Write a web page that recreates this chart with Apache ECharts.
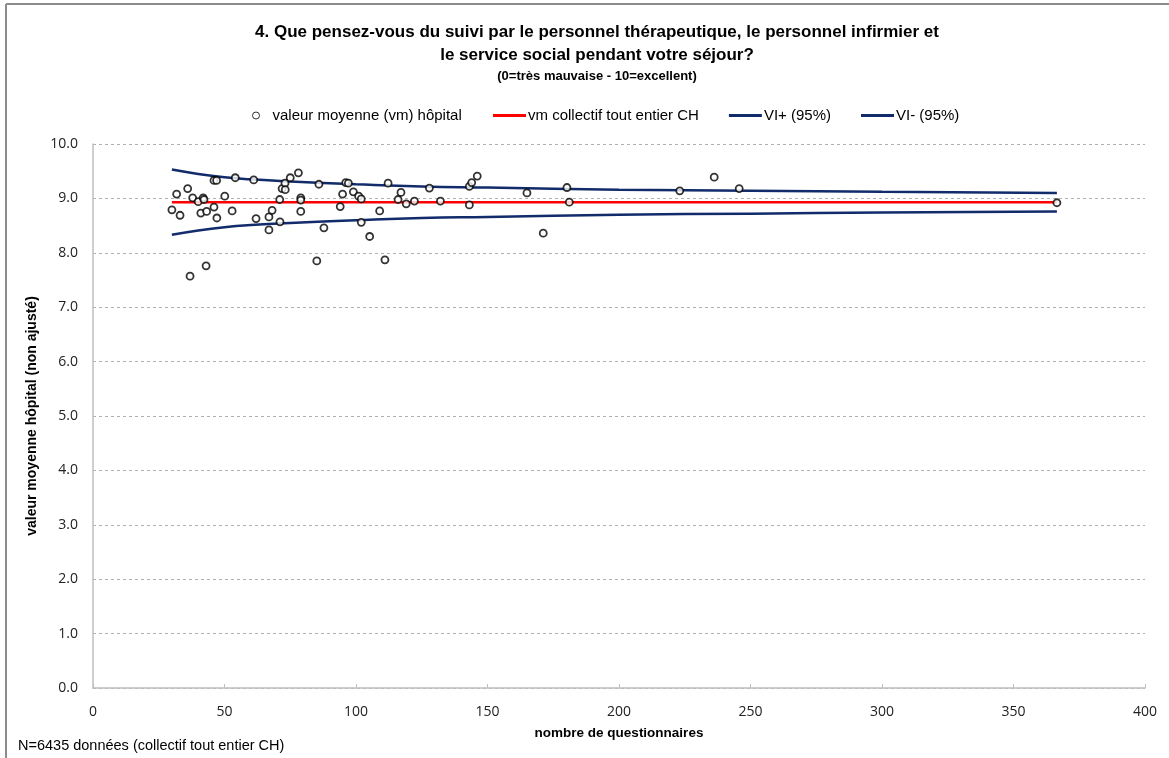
<!DOCTYPE html>
<html>
<head>
<meta charset="utf-8">
<script src="https://cdn.jsdelivr.net/npm/echarts@6/dist/echarts.min.js"></script>
<style>
  html, body { margin: 0; padding: 0; background: #fff; }
  #chart { width: 1169px; height: 758px; }
</style>
</head>
<body>
<div id="chart"></div>
<script>
// hospital points: [nombre de questionnaires, valeur moyenne]
var hospitalN = [30, 31.8, 33.1, 36, 36.9, 37.9, 40, 41, 41.9, 42.2, 43, 43.2, 46, 46, 47, 47.1, 50.1, 52.9, 54.1, 61.1,
  62, 66.9, 66.9, 68.1, 71, 71.1, 71.9, 73, 73.1, 75, 78.1, 79, 79, 79, 85.1, 85.9, 87.8, 94, 94.9, 96.1,
  97.1, 99, 101, 102, 102, 105.2, 109, 111, 112.2, 116, 117.1, 119.1, 122.2, 127.9, 132.1, 143.1, 143.1, 144, 146.1, 165,
  171.2, 180.2, 181.1, 223.1, 236.2, 245.7, 366.5];
var hospitalMean = [8.79, 9.08, 8.69, 9.18, 7.57, 9.01, 8.94, 8.73, 9.01, 8.98, 7.76, 8.76, 8.84, 9.33, 9.33, 8.64, 9.04, 8.77, 9.38, 9.34,
  8.63, 8.66, 8.42, 8.78, 8.98, 8.57, 9.18, 9.28, 9.16, 9.38, 9.47, 9.01, 8.97, 8.76, 7.85, 9.26, 8.46, 8.85, 9.08, 9.29,
  9.28, 9.12, 9.04, 8.99, 8.56, 8.30, 8.77, 7.87, 9.28, 8.98, 9.11, 8.90, 8.95, 9.19, 8.95, 9.22, 8.88, 9.29, 9.41, 9.10,
  8.36, 9.20, 8.93, 9.14, 9.39, 9.18, 8.92];

// collective mean and confidence limits
var overallN = [30, 366.5];
var overallMean = [8.93, 8.93];
var limitN = [30, 40, 50, 60, 75, 100, 125, 150, 200, 250, 300, 366.5];
var upperLimit = [9.53, 9.45, 9.39, 9.35, 9.31, 9.26, 9.22, 9.20, 9.16, 9.14, 9.12, 9.10];
var lowerLimit = [8.33, 8.41, 8.47, 8.51, 8.55, 8.60, 8.64, 8.66, 8.70, 8.72, 8.74, 8.76];

var xTicks = [0, 50, 100, 150, 200, 250, 300, 350, 400];
var yTicks = [0, 1, 2, 3, 4, 5, 6, 7, 8, 9, 10];

function pairs(xs, ys) {
  return xs.map(function (x, i) { return [x, ys[i]]; });
}

var font = "'Liberation Sans Narrow', 'Liberation Sans', sans-serif";
var tickFont = "'Open Sans', 'Liberation Sans', sans-serif";

var myChart = echarts.init(document.getElementById("chart"), null, { renderer: "canvas" });

var option = {
  backgroundColor: "#fff",
  animation: false,
  title: {
    text: "4. Que pensez-vous du suivi par le personnel thérapeutique, le personnel infirmier et\nle service social pendant votre séjour?",
    subtext: "(0=très mauvaise - 10=excellent)",
    left: 592,
    textAlign: "center",
    top: 16,
    itemGap: 3,
    textStyle: { fontFamily: font, fontSize: 17, fontWeight: "bold", color: "#000", lineHeight: 23 },
    subtextStyle: { fontFamily: font, fontSize: 13, fontWeight: "bold", color: "#000" }
  },
  legend: [
    {
      // point legend
      top: 103,
      left: 247,
      itemWidth: 7,
      itemHeight: 7,
      itemGap: 10,
      textStyle: { fontFamily: font, fontSize: 15, color: "#000", padding: [0, 0, 0, 8] },
      data: [
        { name: "valeur moyenne (vm) hôpital", icon: "circle", itemStyle: { color: "#fff", borderColor: "#000", borderWidth: 1 } }
      ]
    },
    {
      // line legends
      top: 103,
      left: 488,
      itemWidth: 33,
      itemHeight: 3,
      itemGap: 30,
      textStyle: { fontFamily: font, fontSize: 15, color: "#000", padding: [0, 0, 0, -3] },
      data: [
        { name: "vm collectif tout entier CH", icon: "rect" },
        { name: "VI+ (95%)", icon: "rect" },
        { name: "VI- (95%)", icon: "rect" }
      ]
    }
  ],
  grid: { left: 93, right: 24, top: 144, bottom: 70 },
  xAxis: {
    type: "value",
    min: xTicks[0],
    max: xTicks[xTicks.length - 1],
    interval: 50,
    name: "nombre de questionnaires",
    nameLocation: "middle",
    nameGap: 38,
    nameTextStyle: { fontFamily: font, fontSize: 13.5, fontWeight: "bold", color: "#000" },
    axisLine: { lineStyle: { color: "#bfbfbf", width: 1.5 } },
    axisTick: { show: true, inside: true, length: 4, lineStyle: { color: "#bfbfbf" } },
    axisLabel: { margin: 17, fontFamily: tickFont, fontSize: 14, color: "#222" },
    splitLine: { show: false }
  },
  yAxis: {
    type: "value",
    min: yTicks[0],
    max: yTicks[yTicks.length - 1],
    interval: 1,
    name: "valeur moyenne hôpital (non ajusté)",
    nameLocation: "middle",
    nameGap: 48,
    nameTextStyle: { fontFamily: font, fontSize: 14, fontWeight: "bold", color: "#000" },
    axisLine: { show: true, lineStyle: { color: "#bfbfbf", width: 1.5 } },
    axisTick: { show: false },
    axisLabel: {
      margin: 15, fontFamily: tickFont, fontSize: 14, color: "#222",
      formatter: function (v) { return v.toFixed(1); }
    },
    splitLine: { lineStyle: { color: "#b0b0b0", type: [3, 3] } }
  },
  graphic: [
    { type: "line", shape: { x1: 6, y1: 4, x2: 6, y2: 758 }, style: { stroke: "#8c8c8c", lineWidth: 2 } },
    { type: "line", shape: { x1: 6, y1: 4, x2: 1169, y2: 4 }, style: { stroke: "#8c8c8c", lineWidth: 2 } },
    {
      type: "text", left: 18, top: 738,
      style: { text: "N=6435 données (collectif tout entier CH)", fontFamily: font, fontSize: 14.5, fill: "#000" }
    }
  ],
  series: [
    {
      name: "valeur moyenne (vm) hôpital",
      type: "scatter",
      symbol: "circle",
      symbolSize: 7,
      z: 5,
      itemStyle: { color: "#fff", borderColor: "#000", borderWidth: 1.8 },
      data: pairs(hospitalN, hospitalMean)
    },
    {
      name: "vm collectif tout entier CH",
      type: "line",
      showSymbol: false,
      itemStyle: { color: "#ff0000" },
      lineStyle: { color: "#ff0000", width: 2.5 },
      data: pairs(overallN, overallMean)
    },
    {
      name: "VI+ (95%)",
      type: "line",
      smooth: true,
      showSymbol: false,
      itemStyle: { color: "#112b6b" },
      lineStyle: { color: "#112b6b", width: 2.5 },
      data: pairs(limitN, upperLimit)
    },
    {
      name: "VI- (95%)",
      type: "line",
      smooth: true,
      showSymbol: false,
      itemStyle: { color: "#112b6b" },
      lineStyle: { color: "#112b6b", width: 2.5 },
      data: pairs(limitN, lowerLimit)
    }
  ]
};

myChart.setOption(option);
</script>
</body>
</html>
